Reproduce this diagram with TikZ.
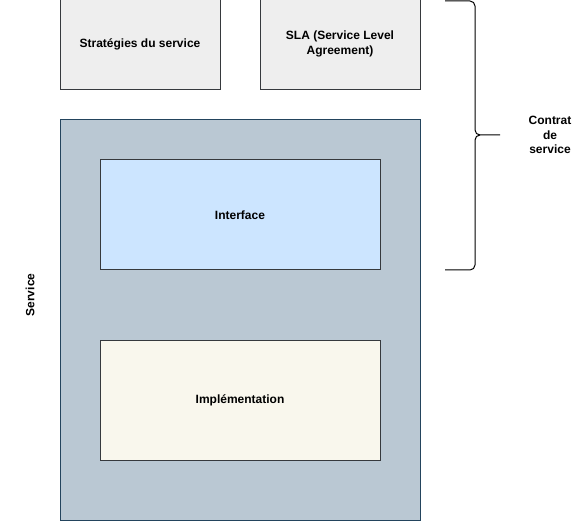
\documentclass[tikz,border=0pt]{standalone}
\usepackage{fontspec}
\setmainfont{Liberation Sans}
\definecolor{grayfill}{HTML}{EEEEEE}
\definecolor{darkline}{HTML}{36393D}
\definecolor{svcfill}{HTML}{BAC8D3}
\definecolor{svcline}{HTML}{23445D}
\definecolor{iffill}{HTML}{CCE5FF}
\definecolor{implfill}{HTML}{F9F7ED}
\tikzset{
  box/.style={draw=darkline, line width=1pt, align=center, inner sep=4pt,
    font=\bfseries\fontsize{12}{14.4}\selectfont},
  lbl/.style={align=center, font=\bfseries\fontsize{12}{14.4}\selectfont},
  bracestyle/.style={draw=black, line width=1pt, rounded corners=5pt}
}
\begin{document}
\begin{tikzpicture}[x=1pt,y=-1pt]
\useasboundingbox (0,0) rectangle (581,521);
\clip (0,0) rectangle (581,521);
\node[box, fill=grayfill, minimum width=160pt, minimum height=92pt] (strat) at (140,44) {Stratégies du service};
\node[box, fill=grayfill, minimum width=160pt, minimum height=92pt] (sla) at (340,44) {SLA (Service Level\\Agreement)};
\node[box, draw=svcline, fill=svcfill, minimum width=360pt, minimum height=400pt] (svc) at (240,320) {};
\node[box, fill=iffill, minimum width=280pt, minimum height=110pt] (iface) at (240,215) {Interface};
\node[box, fill=implfill, minimum width=280pt, minimum height=120pt] (impl) at (240,400) {Implémentation};
\node[lbl, rotate=90] (svclbl) at (30,295) {Service};
\node[lbl] (contrat) at (550,135) {Contrat\\de\\service};
\coordinate (btop) at (445,1);
\coordinate (bbot) at (445,270);
\coordinate (bmid) at (475,135);
\coordinate (btip) at (500,135);
\draw[bracestyle] (btop) -| (bmid) -- (btip);
\draw[bracestyle] (bbot) -| (bmid) -- ([xshift=5pt]bmid);
\end{tikzpicture}
\end{document}
